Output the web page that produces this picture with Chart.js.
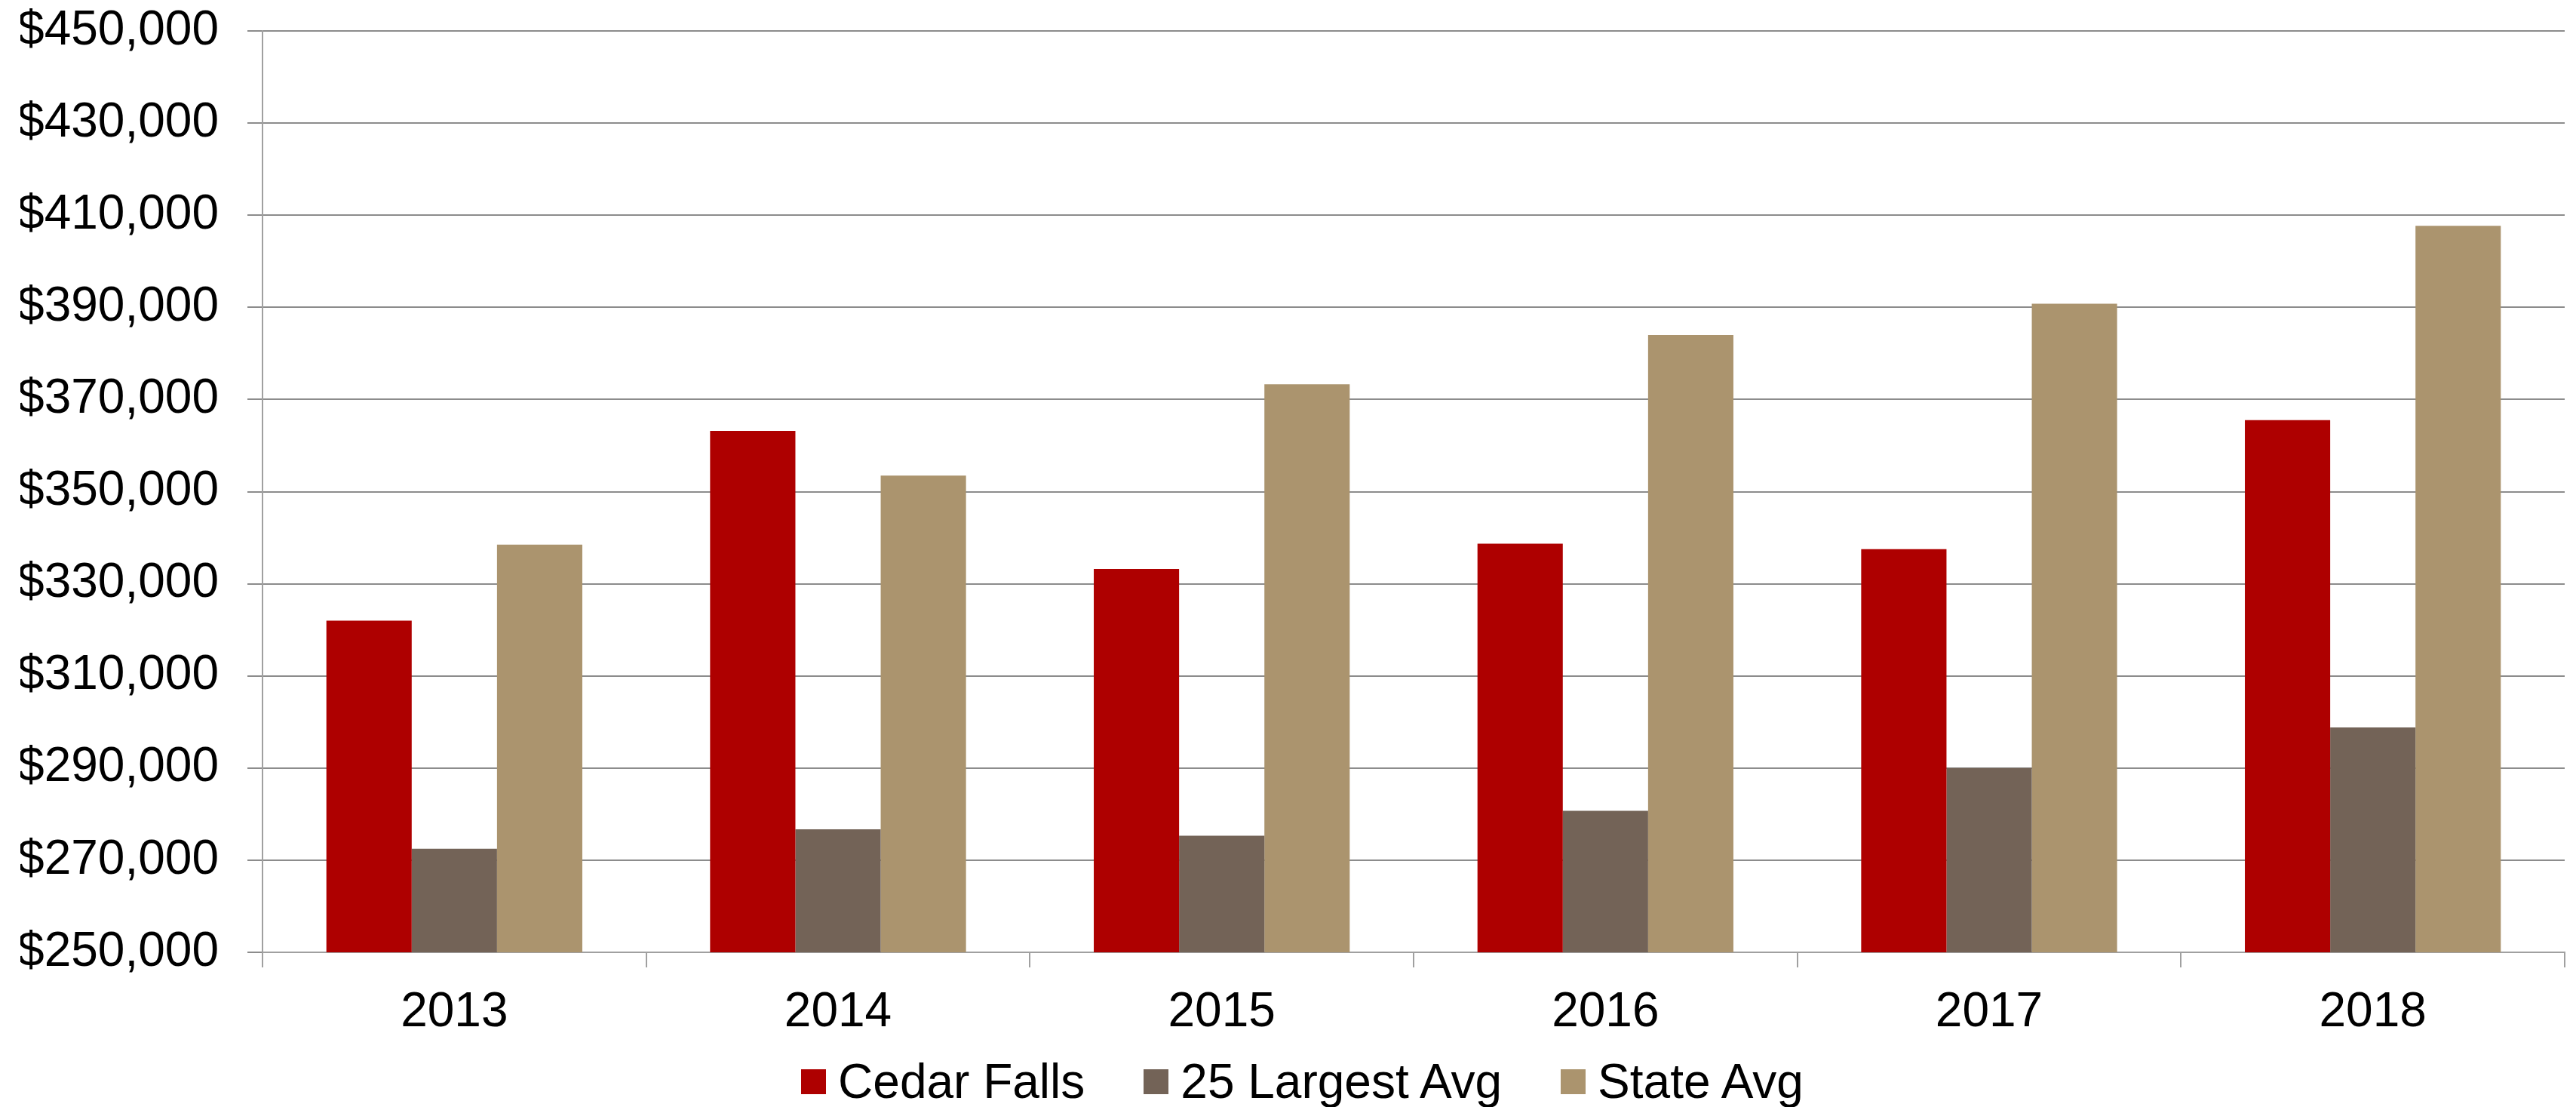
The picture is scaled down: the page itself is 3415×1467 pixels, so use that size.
<!DOCTYPE html>
<html>
<head>
<meta charset="utf-8">
<title>Median Home Value</title>
<script src="https://cdn.jsdelivr.net/npm/chart.js@4.4.0/dist/chart.umd.min.js"></script>
<style>
  html, body { margin: 0; padding: 0; background: #fff; }
  #wrap { position: relative; width: 3415px; height: 1467px; }
  #legend {
    position: absolute; left: 0; top: 1393px; width: 3415px; height: 80px;
    box-sizing: border-box; padding-left: 38px;
    display: flex; justify-content: center; align-items: center;
    font-family: "Liberation Sans", Arial, sans-serif; font-size: 64px; color: #000;
  }
  #legend .item { display: flex; align-items: center; margin: 0 39px; }
  #legend .box { width: 33px; height: 33px; margin-right: 16px; }
</style>
</head>
<body>
<div id="wrap">
  <canvas id="myChart"></canvas>
  <div id="legend"></div>
</div>
<script>
const years = ['2013', '2014', '2015', '2016', '2017', '2018'];
const cedarFalls = [322000, 363200, 333200, 338700, 337500, 365500];
const largest25Avg = [272500, 276700, 275300, 280700, 290000, 298800];
const stateAvg = [338500, 353500, 373300, 384000, 390800, 407700];
const yMin = 250000, yMax = 450000, yStep = 20000;

const gridGray = '#8c8c8c';
const axisGray = '#a0a0a0';
const font = { family: '"Liberation Sans", Arial, sans-serif', size: 64 };

function barchart() {
  const ctx = document.getElementById('myChart');

  const chart = new Chart(ctx, {
    type: 'bar',
    data: {
      labels: years,
      datasets: [
        { label: 'Cedar Falls', data: cedarFalls, backgroundColor: '#AE0000' },
        { label: '25 Largest Avg', data: largest25Avg, backgroundColor: '#736357' },
        { label: 'State Avg', data: stateAvg, backgroundColor: '#AB946E' }
      ]
    },
    options: {
      responsive: true,
      maintainAspectRatio: false,
      animation: false,
      devicePixelRatio: 1,
      layout: { padding: { left: 27, right: 15, top: 41, bottom: 86 } },
      datasets: {
        bar: { categoryPercentage: 0.667, barPercentage: 1.0 }
      },
      plugins: {
        tooltip: { enabled: false },
        legend: { display: false }
      },
      scales: {
        x: {
          grid: {
            drawOnChartArea: false,
            color: axisGray,
            lineWidth: 2,
            tickLength: 20
          },
          border: { color: axisGray, width: 2 },
          ticks: { color: '#000', font: font, padding: 22 },
          afterFit: s => {
            s.height = 119;
            s.paddingLeft = 0;
            s.paddingRight = 0;
          }
        },
        y: {
          min: yMin,
          max: yMax,
          grid: { color: gridGray, lineWidth: 2, tickLength: 20 },
          border: { color: axisGray, width: 2 },
          ticks: {
            stepSize: yStep,
            color: '#000',
            font: font,
            padding: 38,
            callback: v => '$' + v.toLocaleString('en-US')
          },
          afterFit: s => {
            s.width = 321;
            s.paddingTop = 0;
            s.paddingBottom = 0;
          }
        }
      }
    }
  });

  // legend built from the datasets
  const legend = document.getElementById('legend');
  chart.data.datasets.forEach(ds => {
    const item = document.createElement('div');
    item.className = 'item';
    const box = document.createElement('span');
    box.className = 'box';
    box.style.background = ds.backgroundColor;
    const txt = document.createElement('span');
    txt.textContent = ds.label;
    item.appendChild(box);
    item.appendChild(txt);
    legend.appendChild(item);
  });
}
barchart()
</script>
</body>
</html>
